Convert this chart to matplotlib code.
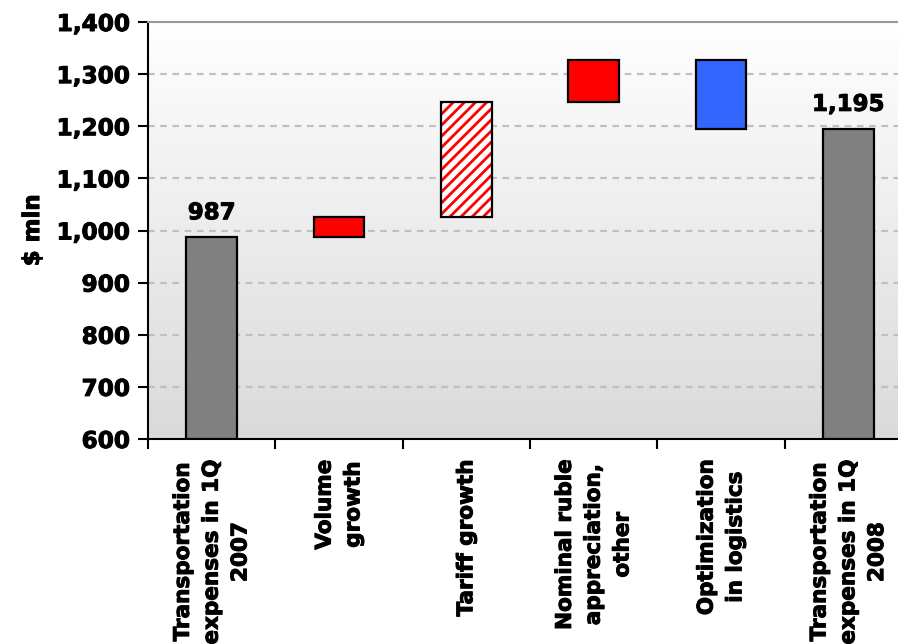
import numpy as np
import matplotlib
matplotlib.use("Agg")
import matplotlib.pyplot as plt
import matplotlib.patheffects as pe
from matplotlib.ticker import FuncFormatter, MultipleLocator
from matplotlib.colors import LinearSegmentedColormap

# Waterfall data ($ mln)
categories = [
    "Transportation\nexpenses in 1Q\n2007",
    "Volume\ngrowth",
    "Tariff growth",
    "Nominal ruble\nappreciation,\nother",
    "Optimization\nin logistics",
    "Transportation\nexpenses in 1Q\n2008",
]
start_value = 987
changes = [39, 220, 81, -132]
end_value = 1195
change_colors = ["#FF0000", "hatch", "#FF0000", "#3366FF"]
total_labels = ["987", "1,195"]

plt.rcParams["font.family"] = ["DejaVu Sans"]
plt.rcParams["font.weight"] = "bold"
plt.rcParams["hatch.linewidth"] = 2.0

# slightly heavier strokes for all text
heavy = [pe.withStroke(linewidth=0.7, foreground="black")]

fig = plt.figure(figsize=(8.98, 6.44), dpi=100)
ax = fig.add_axes([148 / 898, 1 - 439 / 644, (912 - 148) / 898, (439 - 22) / 644])

ymin, ymax = 600, 1400
ax.set_ylim(ymin, ymax)
ax.set_xlim(0, len(categories))

# Vertical gradient background: white at the top, light grey at the bottom
grad = np.linspace(0, 1, 256).reshape(-1, 1)
cmap = LinearSegmentedColormap.from_list("bg", ["#DADADA", "#FFFFFF"])
ax.imshow(grad, extent=[0, len(categories), ymin, ymax], origin="lower",
          aspect="auto", cmap=cmap, zorder=0)

# Grid
for y in range(700, 1400, 100):
    ax.axhline(y, color="#C0C0C0", lw=1.6, ls=(0, (3, 2.5)), zorder=1)

centers = np.arange(len(categories)) + 0.5
width = 0.4
edge_kw = dict(edgecolor="black", linewidth=1.6)

# Totals
ax.bar(centers[0], start_value - ymin, bottom=ymin, width=width,
       color="#808080", zorder=3, **edge_kw)
ax.bar(centers[-1], end_value - ymin, bottom=ymin, width=width,
       color="#808080", zorder=3, **edge_kw)

# Floating change bars
level = start_value
for i, (d, c) in enumerate(zip(changes, change_colors)):
    x = centers[i + 1]
    lo, hi = min(level, level + d), max(level, level + d)
    if c == "hatch":
        ax.bar(x, hi - lo, bottom=lo, width=width, facecolor="white",
               edgecolor="#FF0000", hatch="///", linewidth=0, zorder=3)
        ax.bar(x, hi - lo, bottom=lo, width=width, fill=False, zorder=4,
               **edge_kw)
    else:
        ax.bar(x, hi - lo, bottom=lo, width=width, color=c, zorder=3,
               **edge_kw)
    level += d

# Value labels on totals
for x, v, t in [(centers[0], start_value, total_labels[0]),
                (centers[-1], end_value, total_labels[1])]:
    ax.text(x, v + 47, t, ha="center", va="center", fontsize=16.5,
            fontweight="bold", zorder=5, path_effects=heavy)

# Axes styling
ax.spines["right"].set_visible(False)
ax.spines["top"].set_color("#999999")
ax.spines["top"].set_linewidth(1.5)
ax.spines["left"].set_linewidth(1.5)
ax.spines["bottom"].set_linewidth(1.5)

ax.yaxis.set_major_locator(MultipleLocator(100))
ax.yaxis.set_major_formatter(FuncFormatter(lambda v, p: f"{int(v):,}"))
ax.set_xticks(np.arange(len(categories) + 1))
ax.set_xticklabels([])
ax.set_xticks(centers, minor=True)
ax.set_xticklabels(categories, minor=True, rotation=90, fontsize=15.5,
                   fontweight="bold", linespacing=1.55)
ax.tick_params(axis="x", which="minor", length=0, pad=15)
ax.tick_params(axis="x", which="major", length=7, width=1.5, direction="out")
ax.tick_params(axis="y", length=7, width=1.5, direction="out",
               labelsize=16.7, pad=6)
for lab in ax.get_yticklabels() + ax.get_xticklabels(minor=True):
    lab.set_fontweight("bold")
    lab.set_path_effects(heavy)

ax.set_ylabel("$ mln", fontsize=16.5, fontweight="bold", labelpad=9,
              path_effects=heavy)

fig.savefig("out.png", dpi=100)
